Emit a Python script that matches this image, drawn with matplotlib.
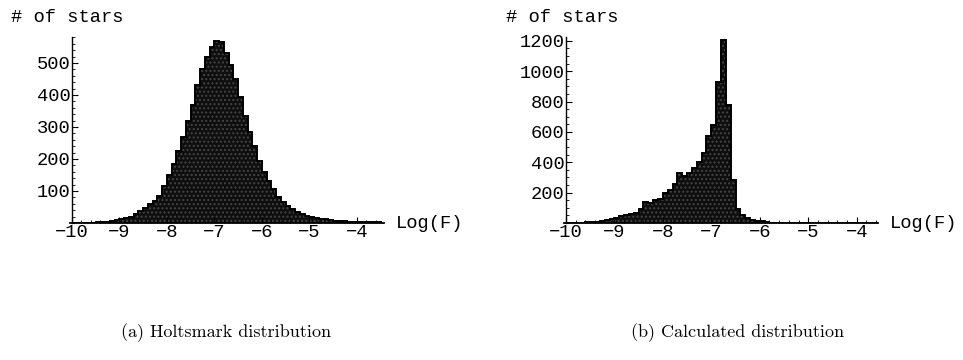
import numpy as np
import matplotlib
matplotlib.use('Agg')
import matplotlib.pyplot as plt
from matplotlib.ticker import MultipleLocator

# bins of width 0.1 in Log(F), starting at -10
bin_start = -10.0
bin_width = 0.1

# (a) Holtsmark distribution, counts per bin
holtsmark = [0, 0, 1, 1, 1, 2, 3, 4, 6, 8,
             11, 15, 20, 27, 36, 47, 60, 70, 85, 115,
             150, 185, 225, 270, 320, 370, 430, 480, 520, 550,
             568, 565, 530, 495, 450, 395, 335, 285, 240, 195,
             160, 132, 105, 82, 66, 53, 43, 35, 28, 23,
             19, 16, 13, 11, 9, 7, 6, 5, 4, 4,
             3, 3, 2, 2, 2]

# (b) Calculated distribution, counts per bin
calculated = [3, 2, 2, 3, 4, 6, 8, 12, 18, 25,
              35, 46, 50, 57, 68, 90, 138, 130, 150, 160,
              200, 215, 255, 330, 310, 330, 365, 400, 460, 575,
              645, 930, 1205, 780, 280, 95, 50, 30, 20, 15,
              10, 6, 3, 2, 2, 2, 1, 1, 1, 1,
              1, 1, 1, 1, 1, 1, 1, 1, 1, 1,
              1, 1, 1, 1, 0]

x_ticks = [-10, -9, -8, -7, -6, -5, -4]
left_yticks = [100, 200, 300, 400, 500]
right_yticks = [200, 400, 600, 800, 1000, 1200]

mono = 'Liberation Mono'
plt.rcParams['font.family'] = [mono, 'DejaVu Sans']
fs = 13.5

fig = plt.figure(figsize=(9.63, 3.6), dpi=100)


def draw(ax, counts, yticks, ylim, xlim, yminor):
    edges = bin_start + bin_width * np.arange(len(counts) + 1)
    ax.bar(edges[:-1], counts, width=bin_width, align='edge',
           color='#0e0e0e', linewidth=0)
    ax.bar(edges[:-1], counts, width=bin_width, align='edge',
           color='none', edgecolor='#444444', linewidth=0, hatch='....')
    ax.stairs(counts, edges, color='black', linewidth=1.4)
    ax.set_xlim(*xlim)
    ax.set_ylim(0, ylim)
    for s in ['top', 'right']:
        ax.spines[s].set_visible(False)
    ax.spines['left'].set_position(('data', -10.0))
    ax.spines['bottom'].set_position(('data', 0))
    ax.spines['left'].set_linewidth(1.0)
    ax.spines['bottom'].set_linewidth(1.3)
    ax.set_xticks(x_ticks)
    ax.set_xticklabels(['\u2212' + str(-t) for t in x_ticks])
    ax.set_yticks(yticks)
    ax.set_yticklabels([str(t) for t in yticks])
    ax.xaxis.set_minor_locator(MultipleLocator(0.2))
    ax.yaxis.set_minor_locator(MultipleLocator(yminor))
    ax.tick_params(which='major', direction='in', length=4, width=0.8,
                   labelsize=fs, pad=1)
    ax.tick_params(which='minor', direction='in', length=2, width=0.6)
    ax.patch.set_visible(False)


ax1 = fig.add_axes([70 / 963, 1 - 223 / 360, 314 / 963, 186 / 360])
draw(ax1, holtsmark, left_yticks, 581, (-10.04, -3.43), 20)

ax2 = fig.add_axes([564 / 963, 1 - 223 / 360, 314 / 963, 186 / 360])
draw(ax2, calculated, right_yticks, 1225, (-10.04, -3.56), 50)

fig.text(11 / 963, 1 - 17 / 360, '# of stars', fontsize=fs,
         ha='left', va='center')
fig.text(506 / 963, 1 - 17 / 360, '# of stars', fontsize=fs,
         ha='left', va='center')
fig.text(396 / 963, 1 - 224 / 360, 'Log(F)', fontsize=fs,
         ha='left', va='center')
fig.text(890 / 963, 1 - 224 / 360, 'Log(F)', fontsize=fs,
         ha='left', va='center')

fig.text(226 / 963, 1 - 333 / 360, '(a) Holtsmark distribution',
         fontsize=13, ha='center', va='center', family='cmr10')
fig.text(738 / 963, 1 - 333 / 360, '(b) Calculated distribution',
         fontsize=13, ha='center', va='center', family='cmr10')

fig.savefig('out.png', dpi=100)
